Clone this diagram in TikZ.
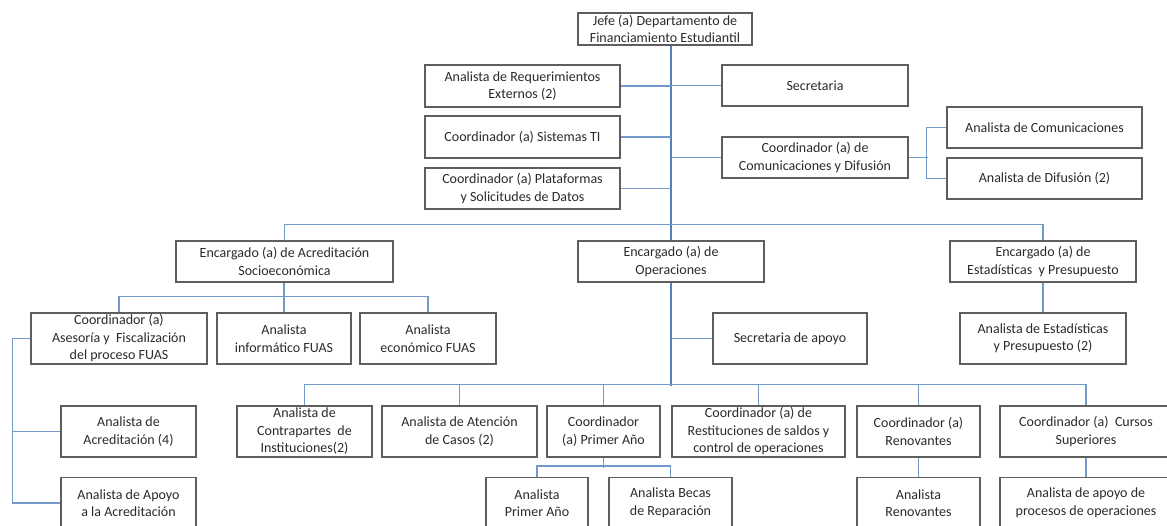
\documentclass[tikz,border=0pt]{standalone}
\usepackage{fontspec}
\setmainfont{Carlito}
\definecolor{boxc}{HTML}{5E5E5E}
\definecolor{linec}{HTML}{7398CA}
\definecolor{mainc}{HTML}{5580B9}
\definecolor{txt}{HTML}{2A2A2A}
\tikzset{
  box/.style={draw=boxc, line width=1.1pt, text=txt, align=center, inner sep=1pt,
    font=\fontsize{14}{17.5}\selectfont},
  ln/.style={draw=linec, line width=1.2pt},
  mainln/.style={draw=mainc, line width=1.8pt}
}
\begin{document}
\begin{tikzpicture}[x=1pt,y=-1pt]
\useasboundingbox (0,0) rectangle (1167,525);
\clip (0,0) rectangle (1167,525);
% top
\node[box, minimum width=174pt, minimum height=32pt] (jefe) at (665,29) {Jefe (a) Departamento de\\Financiamiento Estudiantil};
\node[box, minimum width=195pt, minimum height=42pt] (req) at (522.5,86) {Analista de Requerimientos\\Externos (2)};
\node[box, minimum width=195pt, minimum height=42pt] (ti) at (522.5,137) {Coordinador (a) Sistemas TI};
\node[box, minimum width=195pt, minimum height=41pt] (plat) at (522.5,188.5) {Coordinador (a) Plataformas\\y Solicitudes de Datos};
\node[box, minimum width=186pt, minimum height=41pt] (secr) at (815,85.5) {Secretaria};
\node[box, minimum width=186pt, minimum height=41pt] (ccom) at (815,157.5) {Coordinador (a) de\\Comunicaciones y Difusión};
\node[box, minimum width=195pt, minimum height=41pt] (acom) at (1044.5,127.5) {Analista de Comunicaciones};
\node[box, minimum width=195pt, minimum height=41pt] (adif) at (1044.5,178.5) {Analista de Difusión (2)};
% level 2
\node[box, minimum width=217pt, minimum height=41pt] (eacr) at (284.5,261.5) {Encargado (a) de Acreditación\\Socioeconómica};
\node[box, minimum width=186pt, minimum height=41pt] (eop) at (671,261.5) {Encargado (a) de\\Operaciones};
\node[box, minimum width=186pt, minimum height=41pt] (eest) at (1043,261.5) {Encargado (a) de\\Estadísticas\ \ y Presupuesto};
% level 3
\node[box, minimum width=176pt, minimum height=51pt] (casf) at (119,338.5) {Coordinador (a)\\Asesoría y\ \ Fiscalización\\del proceso FUAS};
\node[box, minimum width=134pt, minimum height=51pt] (ainf) at (284,338.5) {Analista\\informático FUAS};
\node[box, minimum width=136pt, minimum height=51pt] (aeco) at (428,338.5) {Analista\\económico FUAS};
\node[box, minimum width=154pt, minimum height=51pt] (sapo) at (790,338.5) {Secretaria de apoyo};
\node[box, minimum width=166pt, minimum height=51pt] (aest) at (1043,338.5) {Analista de Estadísticas\\y Presupuesto (2)};
% level 4
\node[box, minimum width=135pt, minimum height=51pt] (aacr) at (128.5,431.5) {Analista de\\Acreditación (4)};
\node[box, minimum width=135pt, minimum height=51pt] (acon) at (304.5,431.5) {Analista de\\Contrapartes\ \ de\\Instituciones(2)};
\node[box, minimum width=155pt, minimum height=51pt] (aate) at (459.5,431.5) {Analista de Atención\\de Casos (2)};
\node[box, minimum width=113pt, minimum height=51pt] (cpri) at (603.5,431.5) {Coordinador\\(a) Primer Año};
\node[box, minimum width=173pt, minimum height=51pt] (cres) at (758.5,431.5) {Coordinador (a) de\\Restituciones de saldos\ y\\control de operaciones};
\node[box, minimum width=123pt, minimum height=51pt] (cren) at (918.5,431.5) {Coordinador (a)\\Renovantes};
\node[box, minimum width=172pt, minimum height=51pt] (ccur) at (1086,431.5) {Coordinador (a)\ \ Cursos\\Superiores};
% level 5
\node[box, minimum width=135pt, minimum height=51pt] (aapo) at (128.5,503) {Analista de Apoyo\\a la Acreditación};
\node[box, minimum width=102pt, minimum height=51pt] (apri) at (537,503) {Analista\\Primer Año};
\node[box, minimum width=123pt, minimum height=51pt] (abec) at (670.5,503) {Analista Becas\\de Reparación};
\node[box, minimum width=123pt, minimum height=51pt] (aren) at (918.5,503) {Analista\\Renovantes};
\node[box, minimum width=172pt, minimum height=51pt] (aproc) at (1086,503) {Analista de apoyo de\\procesos de operaciones};
% connectors top
\draw[mainln] (eop.north |- jefe.south) -- (eop.north);
\draw[ln] (req.east) -- (req.east -| eop.north);
\draw[ln] (ti.east) -- (ti.east -| eop.north);
\draw[ln] (plat.east) -- (plat.east -| eop.north);
\draw[ln] (secr.west) -- (secr.west -| eop.north);
\draw[ln] (ccom.west) -- (ccom.west -| eop.north);
\draw[ln] (ccom.east) -- ++(19,0);
\draw[ln] (acom.west) -- ++(-20,0) |- (adif.west);
\draw[ln] (eacr.north) -- ++(0,-16) -| (eest.north);
% accreditation
\draw[ln] (casf.north) -- ++(0,-16) -| (aeco.north);
\draw[ln] (ainf.north |- eacr.south) -- (ainf.north);
\draw[ln] (casf.west) -- ++(-18,0) |- (aapo.west);
\draw[ln] (aacr.west) -- ++(-48,0);
% statistics
\draw[ln] (eest.south) -- (aest.north);
% operations
\draw[mainln] (eop.south) -- ++(0,103);
\draw[ln] (sapo.west) -- (sapo.west -| eop.south);
\draw[ln] (acon.north) -- ++(0,-21) -| (ccur.north);
\draw[ln] (aate.north) -- ++(0,-21);
\draw[ln] (cpri.north) -- ++(0,-21);
\draw[ln] (cres.north) -- ++(0,-21);
\draw[ln] (cren.north) -- ++(0,-21);
\draw[ln] (cpri.south) -- ++(0,10);
\draw[ln] (apri.north) -- ++(0,-11) -| (abec.north);
\draw[ln] (cren.south) -- (aren.north);
\draw[ln] (ccur.south) -- (aproc.north);
\end{tikzpicture}
\end{document}
